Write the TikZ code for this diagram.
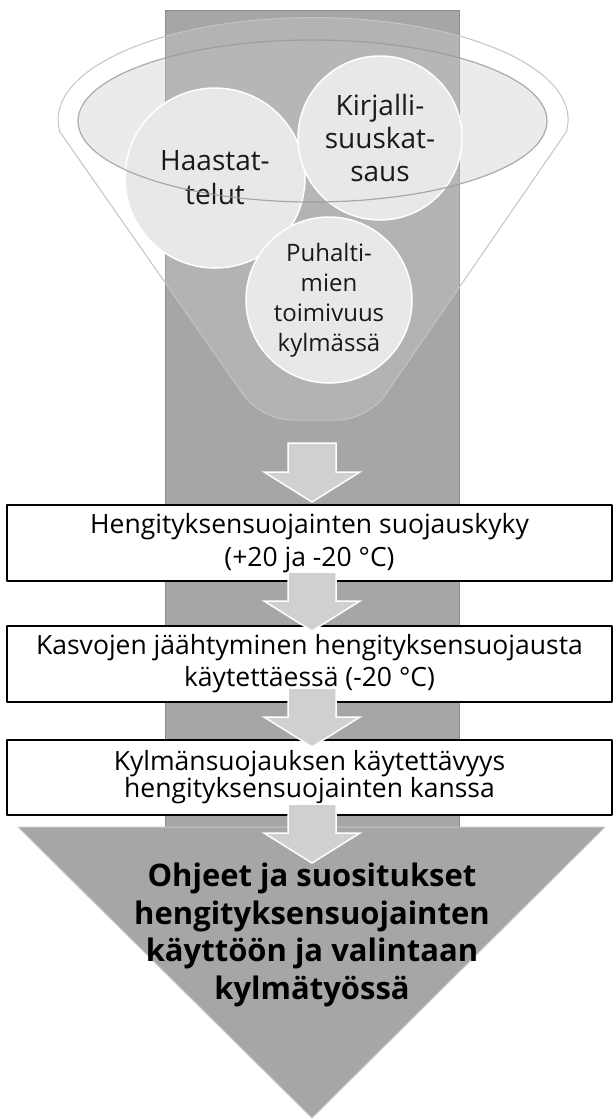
\documentclass[tikz,border=0pt]{standalone}
\usepackage{fontspec}
\setmainfont{Open Sans}
\definecolor{colgray}{HTML}{A6A6A6}
\definecolor{coledge}{HTML}{8C8C8C}
\definecolor{arrfill}{HTML}{D0D0D0}
\definecolor{bubble}{HTML}{E8E8E8}
\definecolor{rimgray}{HTML}{C4C4C4}
\tikzset{
  stage/.style={draw=black, line width=1.2pt, fill=white, minimum width=605pt, inner sep=0pt, align=center},
  bubblenode/.style={circle, fill=bubble, draw=white, line width=1.5pt, inner sep=0pt, align=center, text=black!90},
  blockarr/.style={fill=arrfill, draw=white, line width=1.5pt, line join=miter},
}
\begin{document}
\begin{tikzpicture}[x=1pt, y=-1pt, line join=round]
\useasboundingbox (0,0) rectangle (613,1120);
\draw[fill=colgray, draw=coledge, line width=1pt] (165,10) rectangle (459,827);
\draw[fill=white, fill opacity=0.15, draw=rimgray, line width=1pt] (60,132) arc[start angle=173, end angle=367, x radius=255, y radius=102] [rounded corners=30pt] -- (368,420) -- (261,420) [sharp corners] -- cycle;
\fill[black!25, fill opacity=0.3] (312.5,121) ellipse[x radius=234.5, y radius=81];
\node[bubblenode, minimum size=180pt, font=\fontsize{28}{34}\selectfont] (haast) at (215,178) {Haastat-\\telut};
\node[bubblenode, minimum size=164pt, font=\fontsize{28}{33}\selectfont] (kirj) at (380,138) {Kirjalli-\\suuskat-\\saus};
\node[bubblenode, minimum size=166pt, font=\fontsize{24}{30}\selectfont] (puh) at (329,300) {Puhalti-\\mien\\toimivuus\\kylmässä};
\draw[black!40, line width=1.2pt, draw opacity=0.8] (312.5,121) ellipse[x radius=234.5, y radius=81];
\draw[fill=colgray, draw=black!22, line width=1pt] (18,827) -- (605,827) -- (312,1118) -- cycle;
\node[stage, minimum height=76pt, font=\fontsize{26.5}{33}\selectfont] (b1) at (309.5,543) {Hengityksensuojainten suojauskyky\\(+20 ja -20~°C)};
\node[stage, minimum height=76pt, font=\fontsize{26.5}{32}\selectfont] (b2) at (309.5,664) {Kasvojen jäähtyminen hengityksensuojausta\\käytettäessä (-20~°C)};
\node[stage, minimum height=75pt, font=\fontsize{26.5}{27}\selectfont] (b3) at (309.5,777.5) {Kylmänsuojauksen käytettävyys\\hengityksensuojainten kanssa};
\foreach \ty in {502,631,747,863}
  \draw[blockarr] (288,\ty-59) -- (336,\ty-59) -- (336,\ty-30) -- (360,\ty-30) -- (312,\ty) -- (264,\ty-30) -- (288,\ty-30) -- cycle;
\node[font=\fontsize{31}{37.5}\selectfont\bfseries, align=center] (goal) at (312,935) {Ohjeet ja suositukset\\hengityksensuojainten\\käyttöön ja valintaan\\kylmätyössä};
\end{tikzpicture}
\end{document}
